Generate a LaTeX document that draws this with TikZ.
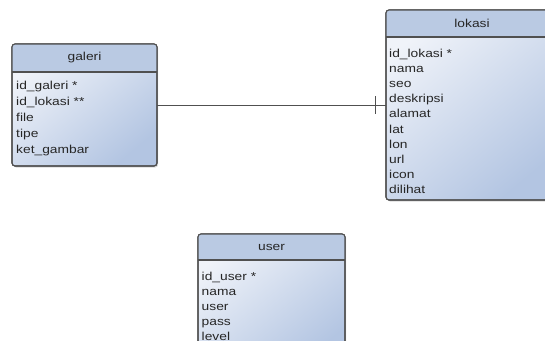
\documentclass[tikz,border=0pt]{standalone}
\usepackage{fontspec}
\newfontfamily\erfont[FakeStretch=1.2]{Liberation Sans}
\usetikzlibrary{calc,shadows}

\definecolor{headblue}{HTML}{BACAE3}
\definecolor{bodytop}{HTML}{F0F3F9}
\definecolor{bodybot}{HTML}{B3C5E2}
\definecolor{edgegray}{HTML}{505050}
\definecolor{textgray}{HTML}{262626}

\tikzset{
  entity/.style={rectangle, rounded corners=3pt, draw=edgegray, line width=1.1pt, inner sep=0pt, outer sep=0pt, anchor=north west, top color=bodytop, bottom color=bodybot, shading angle=40, drop shadow={opacity=0.3, shadow xshift=1.2pt, shadow yshift=-1.5pt}},
  entityframe/.style={draw=edgegray, line width=1.1pt, rounded corners=3pt},
  entityname/.style={font=\erfont\fontsize{11.5}{14}\selectfont, text=textgray},
  attr/.style={font=\erfont\fontsize{11.5}{14}\selectfont, text=textgray, anchor=base west, inner sep=0pt},
  link/.style={draw=edgegray, line width=0.9pt}
}

\begin{document}
\begin{tikzpicture}[x=1pt, y=-1pt]
  \useasboundingbox (0,0) rectangle (545,340);
  \clip (0,0) rectangle (545,340);

  \node[entity, minimum width=145pt, minimum height=122pt] (galeri) at (12,44) {};
  \begin{scope}
    \clip[rounded corners=3pt] (galeri.north west) rectangle (galeri.south east);
    \fill[headblue] (galeri.north west) rectangle ([yshift=-28pt]galeri.north east);
  \end{scope}
  \draw[entityframe] ([yshift=-28pt]galeri.north west) -- ([yshift=-28pt]galeri.north east);
  \draw[entityframe] (galeri.north west) rectangle (galeri.south east);
  \node[entityname] (galeri-name) at ($(galeri.north)+(0,14)$) {galeri};
  \foreach \a [count=\i from 0] in {id\_galeri *, id\_lokasi **, file, tipe, ket\_gambar}
    \node[attr] (galeri-\i) at ($(galeri.north west)+(4,45+16*\i)$) {\a};

  \node[entity, minimum width=172pt, minimum height=190pt] (lokasi) at (386,10) {};
  \begin{scope}
    \clip[rounded corners=3pt] (lokasi.north west) rectangle (lokasi.south east);
    \fill[headblue] (lokasi.north west) rectangle ([yshift=-27pt]lokasi.north east);
  \end{scope}
  \draw[entityframe] ([yshift=-27pt]lokasi.north west) -- ([yshift=-27pt]lokasi.north east);
  \draw[entityframe] (lokasi.north west) rectangle (lokasi.south east);
  \node[entityname] (lokasi-name) at ($(lokasi.north)+(0,13.5)$) {lokasi};
  \foreach \a [count=\i from 0] in {id\_lokasi *, nama, seo, deskripsi, alamat, lat, lon, url, icon, dilihat}
    \node[attr] (lokasi-\i) at ($(lokasi.north west)+(3,47+15.2*\i)$) {\a};

  \node[entity, minimum width=147pt, minimum height=130pt] (user) at (198,234) {};
  \begin{scope}
    \clip[rounded corners=3pt] (user.north west) rectangle (user.south east);
    \fill[headblue] (user.north west) rectangle ([yshift=-26pt]user.north east);
  \end{scope}
  \draw[entityframe] ([yshift=-26pt]user.north west) -- ([yshift=-26pt]user.north east);
  \draw[entityframe] (user.north west) rectangle (user.south east);
  \node[entityname] (user-name) at ($(user.north)+(0,13)$) {user};
  \foreach \a [count=\i from 0] in {id\_user *, nama, user, pass, level}
    \node[attr] (user-\i) at ($(user.north west)+(3.5,46+15.2*\i)$) {\a};

  \coordinate (fk) at (galeri.east -| lokasi.west);
  \draw[link] (galeri.east) -- (fk);
  \draw[link] ([xshift=-11pt, yshift=9pt]fk) -- ([xshift=-11pt, yshift=-9pt]fk);
\end{tikzpicture}
\end{document}
